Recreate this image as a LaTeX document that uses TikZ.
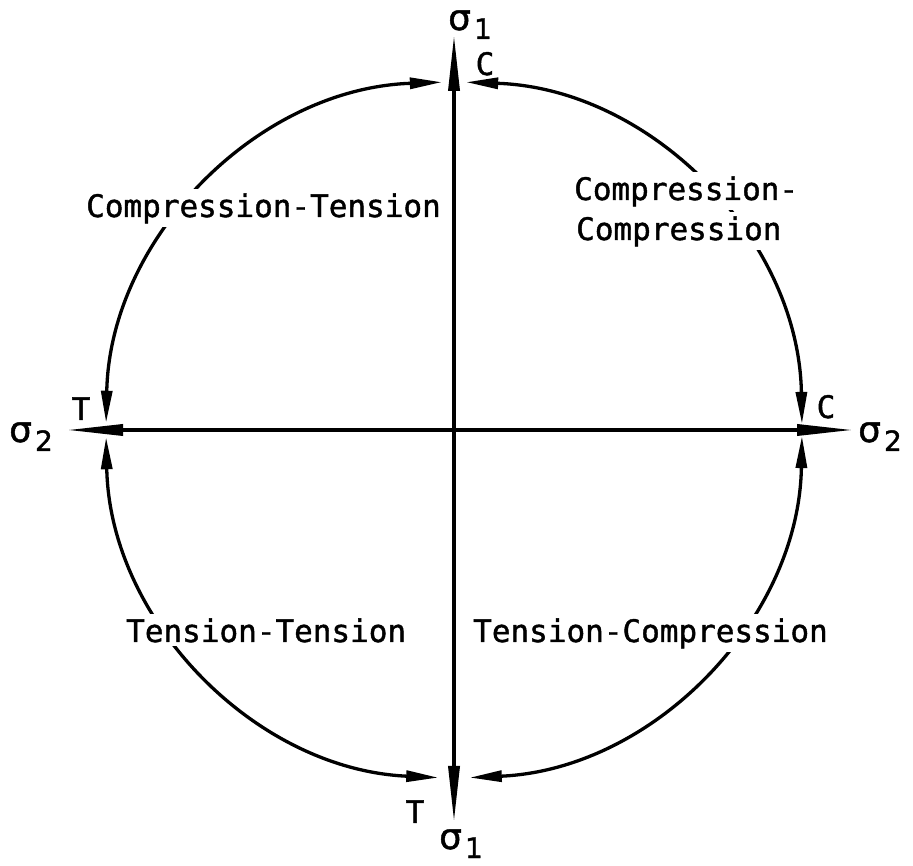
\documentclass[tikz,border=0pt]{standalone}
\usepackage{fontspec}
\setmainfont{DejaVu Sans}[FakeBold=1.3]
\newfontfamily\lettering{DejaVu Sans Mono}[FakeBold=1.3]
\usetikzlibrary{arrows.meta}
\newcommand{\sigmalbl}[1]{{\fontsize{36}{36}\selectfont σ}\kern3pt\raisebox{-9pt}{\fontsize{28}{28}\selectfont #1}}
\begin{document}
\begin{tikzpicture}[x=1pt,y=1pt,
  axisline/.style={line width=3.5pt, {Triangle[length=56pt,width=11pt]}-{Triangle[length=56pt,width=11pt]}},
  arcline/.style={line width=3.3pt, {Triangle[length=32pt,width=11pt]}-{Triangle[length=32pt,width=11pt]}},
  lbl/.style={inner sep=0pt, font=\lettering\fontsize{31}{40}\selectfont},
  quad/.style={lbl, fill=white, inner xsep=1pt, inner ysep=4pt},
  siglbl/.style={inner sep=0pt, anchor=base west}]
\useasboundingbox (0,0) rectangle (913,865);
\coordinate (O) at (454,435);
\coordinate (top) at (454,830);
\coordinate (bot) at (454,43);
\coordinate (lft) at (67,435);
\coordinate (rgt) at (853,435);
% axes
\draw[axisline] (bot) -- (top);
\draw[axisline] (lft) -- (rgt);
% arcs
\draw[arcline] ([shift={(92:348)}]O) arc[start angle=92, end angle=178.8, radius=348];
\draw[arcline] ([shift={(88:348)}]O) arc[start angle=88, end angle=1, radius=348];
\draw[arcline] ([shift={(181.2:348)}]O) arc[start angle=181.2, end angle=267.4, radius=348];
\draw[arcline] ([shift={(272.6:348)}]O) arc[start angle=272.6, end angle=359, radius=348];
% axis labels
\node[siglbl] (s1t) at (448,835) {\sigmalbl{1}};
\node[siglbl] (s1b) at (439,16) {\sigmalbl{1}};
\node[siglbl] (s2l) at (9,423) {\sigmalbl{2}};
\node[siglbl] (s2r) at (858,423) {\sigmalbl{2}};
% C / T markers
\node[lbl, anchor=base] (ct) at (485,790) {C};
\node[lbl, anchor=base] (tl) at (81,445) {T};
\node[lbl, anchor=base] (cr) at (826,447) {C};
\node[lbl, anchor=base] (tb) at (415,42) {T};
% quadrant labels (they sit on the arcs, which are broken behind them)
\node[quad, anchor=base west] (q1) at (85,648) {Compression-Tension};
\node[quad, anchor=base west] (q2a) at (573,665) {Compression-};
\node[quad, anchor=base west] (q2b) at (575,625) {Compression};
\node[quad, anchor=base west] (q3) at (125,223) {Tension-Tension};
\node[quad, anchor=base west] (q4) at (472,223) {Tension-Compression};
\end{tikzpicture}
\end{document}
